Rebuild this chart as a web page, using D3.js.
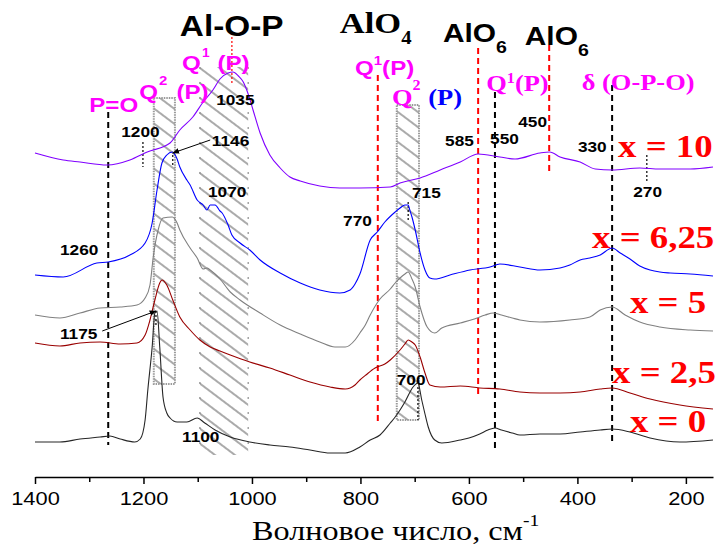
<!DOCTYPE html>
<html><head><meta charset="utf-8">
<script src="https://cdn.jsdelivr.net/npm/d3@7"></script>
<style>body{margin:0;background:#fff}svg{display:block}text{white-space:pre}</style>
</head><body>
<svg id="c" width="720" height="548"></svg>
<script>
// ---------- DATA (wavenumber, cm-1 ; relative intensity, offset traces) ----------
const ticksMajor = [1400, 1200, 1000, 800, 600, 400, 200];
const ticksMinor = [1300, 1100, 900, 700, 500, 300];

const x10_wn = [1400,1348,1317,1267,1225,1193,1151,1133,1109,1090,1072,1059,1044,1035,1025,1016,1007,998,985,967,948,930,911,875,838,801,745,727,690,653,616,583,543,515,469,451,432,395,367,336,285,248,192,150];
const x10_I  = [324,317,315,312,317,325,334,347,360,375,387,398,404,405,401,395,383,367,344,322,309,300,296,291,289,289,290,294,299,307,315,323,320,318,324,325,320,315,308,307,309,308,308,310];

const x625_wn = [1400,1348,1286,1265,1225,1197,1184,1175,1166,1157,1147,1138,1133,1120,1114,1101,1090,1083,1077,1068,1059,1055,1044,1037,1022,1004,985,948,911,875,838,819,810,801,782,769,755,736,727,718,712,709,705,699,690,681,672,663,635,598,561,543,506,469,432,414,395,377,358,336,321,303,285,266,248,229,192,150];
const x625_I  = [202,200,214,215,222,234,254,287,314,322,325,318,310,297,292,277,272,267,272,272,266,264,252,242,234,227,217,204,194,187,184,187,193,203,237,245,255,265,269,272,272,267,260,247,224,207,199,198,202,207,210,213,210,207,209,212,217,219,222,229,224,218,211,207,205,204,203,201];

const x5_wn = [1400,1354,1317,1280,1243,1212,1197,1188,1182,1173,1164,1147,1138,1133,1114,1101,1090,1083,1077,1059,1040,1022,985,948,911,875,847,828,810,801,791,782,764,745,736,727,718,712,705,699,690,677,663,650,616,590,570,555,540,520,506,469,414,377,358,336,312,285,248,192,150];
const x5_I  = [162,159,164,169,170,172,179,192,220,247,259,260,254,247,229,219,208,209,207,198,185,177,164,152,143,135,130,130,137,144,152,162,178,188,194,199,203,205,198,190,170,150,144,149,154,158,162,164,162,159,157,155,157,160,167,170,162,155,150,147,146];

const x25_wn = [1400,1354,1317,1280,1243,1212,1197,1188,1179,1170,1166,1157,1146,1133,1114,1096,1077,1059,1040,1004,967,930,893,856,828,810,801,790,773,755,745,727,718,712,705,699,690,681,672,653,616,580,543,506,469,432,395,358,336,303,266,211,150];
const x25_I  = [134,131,134,135,133,134,142,157,177,194,197,192,177,160,147,137,130,126,122,115,109,102,95,90,88,92,97,102,109,113,117,127,133,137,135,132,120,104,92,90,91,89,88,85,84,84,85,88,89,84,78,72,68];

const x0_wn = [1400,1354,1317,1280,1262,1243,1216,1206,1197,1192,1184,1179,1175,1170,1164,1157,1151,1138,1120,1101,1087,1068,1040,1004,967,930,893,856,828,801,782,764,745,736,727,718,703,694,687,681,675,663,650,616,600,580,565,552,540,520,506,469,432,395,358,336,303,266,211,150];
const x0_I  = [35,35,38,40,41,38,35,38,57,87,130,164,166,130,80,64,59,55,55,59,54,47,40,35,32,30,27,24,24,30,37,42,54,60,67,75,90,94,77,63,50,37,34,37,39,43,47,49,47,44,42,43,43,45,47,48,45,39,35,37];

const seriesNames  = ["x = 10", "x = 6,25", "x = 5", "x = 2,5", "x = 0"];
const seriesColors = ["#8000ff", "#0000ff", "#808080", "#990000", "#262626"];

// ---------- SETUP ----------
const SX = 1.15;
const SANS = "'Liberation Sans', Arial, sans-serif";
const SERIF = "'Liberation Serif', 'Times New Roman', serif";
const svg = d3.select('#c');
const x = d3.scaleLinear().domain([1400, 150]).range([35, 713]);
const y = d3.scaleLinear().domain([0, 450]).range([477, 27]);

const defs = svg.append('defs');
defs.append('pattern').attr('id', 'hatch').attr('patternUnits', 'userSpaceOnUse')
  .attr('width', 12).attr('height', 12).attr('patternTransform', 'rotate(37)')
  .append('line').attr('x1', -1).attr('y1', 6).attr('x2', 13).attr('y2', 6)
  .attr('stroke', '#555').attr('stroke-width', 1);
const mk = defs.append('marker').attr('id', 'arr').attr('viewBox', '0 0 10 10')
  .attr('refX', 9).attr('refY', 5).attr('markerWidth', 7).attr('markerHeight', 7)
  .attr('markerUnits', 'userSpaceOnUse').attr('orient', 'auto');
mk.append('path').attr('d', 'M0,1 L10,5 L0,9 Z').attr('fill', '#000');

// hatched bands [wnLeft, wnRight, Itop, Ibottom, bordered]
const bands = [[1181, 1142, 379, 93, true], [1096, 1007, 410, 22, false], [733, 692, 372, 57, true]];
bands.forEach(b => {
  const r = svg.append('rect').attr('x', x(b[0])).attr('y', y(b[2]))
    .attr('width', x(b[1]) - x(b[0])).attr('height', y(b[3]) - y(b[2]))
    .attr('fill', 'url(#hatch)');
  if (b[4]) r.attr('stroke', '#9a9a9a').attr('stroke-width', 2).attr('stroke-dasharray', '1.5,1');
  else {
    [b[0], b[1]].forEach(w => svg.append('line').attr('x1', x(w)).attr('x2', x(w))
      .attr('y1', y(b[2])).attr('y2', y(b[3])).attr('stroke', '#777').attr('stroke-width', 1)
      .attr('stroke-dasharray', '2,13'));
  }
});

// vertical guide lines [wn, Itop, Ibottom, color, style]
const guides = [
  [1265, 365, 32, '#000', 'dash'], [1201, 335, 310, '#000', 'dot'], [1037, 444, 392, '#ff0000', 'dot'],
  [768, 402, 55, '#ff0000', 'dash'], [583, 429, 80, '#ff0000', 'dash'], [552, 385, 29, '#000', 'dash'],
  [452, 432, 305, '#ff0000', 'dash'], [336, 392, 34, '#000', 'dash'], [272, 322, 295, '#000', 'dot'],
  [1146, 322, 310, '#000', 'dot'], [712, 275, 257, '#000', 'dot'], [694, 90, 57, '#000', 'dot'],
  [1177, 166, 150, '#000', 'dot']
];
guides.forEach(g => svg.append('line').attr('x1', x(g[0])).attr('x2', x(g[0]))
  .attr('y1', y(g[1])).attr('y2', y(g[2])).attr('stroke', g[3])
  .attr('stroke-width', g[4] === 'dash' ? 2 : 1.2)
  .attr('stroke-dasharray', g[4] === 'dash' ? '6,4' : '2,2'));

// traces
const series = [[x10_wn, x10_I], [x625_wn, x625_I], [x5_wn, x5_I], [x25_wn, x25_I], [x0_wn, x0_I]];
const line = d3.line().x(d => x(d[0])).y(d => y(d[1])).curve(d3.curveMonotoneX);
series.forEach((s, i) => {
  const pts = s[0].map((w, k) => [w, s[1][k]]);
  svg.append('path').datum(pts).attr('d', line).attr('fill', 'none')
    .attr('stroke', seriesColors[i]).attr('stroke-width', 1.1);
});

// axis
const ax = svg.append('g').attr('transform', `translate(0,${y(0)})`)
  .call(d3.axisBottom(x).tickValues(ticksMajor).tickSize(7).tickSizeOuter(0).tickFormat(d3.format('d')));
ax.select('.domain').attr('stroke-width', 1.5);
ax.selectAll('.tick line').attr('stroke-width', 1.5);
ax.selectAll('.tick text').attr('y', 28).attr('dy', 0).attr('font-size', 19)
  .attr('font-family', SANS).attr('fill', '#000').attr('transform', `scale(${SX},1)`);
const axm = svg.append('g').attr('transform', `translate(0,${y(0)})`)
  .call(d3.axisBottom(x).tickValues(ticksMinor).tickSize(5).tickSizeOuter(0).tickFormat(''));
axm.select('.domain').remove();
axm.selectAll('.tick line').attr('stroke-width', 1.5);

// text helper
function addText(wn, inten, parts, base) {
  const t = svg.append('text')
    .attr('transform', `translate(${x(wn)},${y(inten)}) scale(${SX},1)`)
    .attr('font-family', base.family).attr('font-weight', base.weight || 'normal')
    .attr('font-size', base.size).attr('fill', base.fill || '#000');
  parts.forEach(p => {
    const ts = t.append('tspan').attr('y', p.dy || 0).text(p.t);
    if (p.size) ts.attr('font-size', p.size);
    if (p.fill) ts.attr('fill', p.fill);
    if (p.dx) ts.attr('dx', p.dx);
    if (p.family) ts.attr('font-family', p.family);
  });
  return t;
}
const MAG = '#ff00ff';
// band / assignment titles
addText(1133, 441, [{t: 'Al-O-P'}], {family: SANS, weight: 'bold', size: 29});
addText(838, 444, [{t: 'AlO'}, {t: '4', size: 18, dy: 11}], {family: SERIF, weight: 'bold', size: 30});
addText(648, 435, [{t: 'AlO'}, {t: '6', size: 17, dy: 11}], {family: SANS, weight: 'bold', size: 26});
addText(497, 432, [{t: 'AlO'}, {t: '6', size: 17, dy: 11}], {family: SANS, weight: 'bold', size: 26});
addText(1129, 407, [{t: 'Q'}, {t: '1', size: 12, dy: -13, dx: 1}, {t: ' (P)', dx: 1}], {family: SANS, weight: 'bold', size: 21, fill: MAG});
addText(1208, 378, [{t: 'Q'}, {t: '2', size: 13, dy: -14, dx: 1}, {t: ' (P)', dx: 2}], {family: SANS, weight: 'bold', size: 21, fill: MAG});
addText(1300, 365, [{t: 'P=O'}], {family: SANS, weight: 'bold', size: 21, fill: MAG});
addText(810, 402, [{t: 'Q'}, {t: '1', size: 13, dy: -10}, {t: '(P)'}], {family: SANS, weight: 'bold', size: 21, fill: MAG});
addText(742, 372, [{t: 'Q'}, {t: '2', size: 14, dy: -15}, {t: ' (P)', fill: '#0000ff', dx: 1}], {family: SERIF, weight: 'bold', size: 23, fill: MAG});
addText(568, 386, [{t: 'Q'}, {t: '1', size: 14, dy: -8}, {t: '(P)'}], {family: SERIF, weight: 'bold', size: 23, fill: MAG});
addText(392, 387, [{t: 'δ (O-P-O)'}], {family: SERIF, weight: 'bold', size: 23, fill: MAG});

// peak numbers
const peakLabels = [['1200', 1241, 340], ['1035', 1066, 372], ['1146', 1074, 331], ['1070', 1081, 280],
  ['1260', 1354, 222], ['1175', 1354, 138], ['1100', 1129, 35], ['770', 832, 251], ['715', 705, 279],
  ['700', 733, 92], ['585', 644, 331], ['550', 561, 333], ['450', 509, 350], ['330', 399, 325], ['270', 297, 280]];
peakLabels.forEach(p => addText(p[1], p[2], [{t: p[0]}], {family: SANS, weight: 'bold', size: 15}));

// series labels
const seriesLabelPos = [[325, 320], [373, 229], [303, 164], [336, 94], [303, 45]];
seriesNames.forEach((n, i) => addText(seriesLabelPos[i][0], seriesLabelPos[i][1], [{t: n}],
  {family: SERIF, weight: 'bold', size: 32, fill: '#ff0000'}));

// arrows
[[1077, 337, 1146, 324], [1276, 146, 1177, 166]].forEach(a => svg.append('line')
  .attr('x1', x(a[0])).attr('y1', y(a[1])).attr('x2', x(a[2])).attr('y2', y(a[3]))
  .attr('stroke', '#000').attr('stroke-width', 1).attr('marker-end', 'url(#arr)'));

// axis title
const tt = svg.append('text').attr('transform', `translate(252,540) scale(${SX},1)`)
  .attr('font-family', SERIF).attr('font-size', 28).attr('fill', '#000');
tt.append('tspan').text('Волновое число, см');
tt.append('tspan').attr('y', -14).attr('font-size', 17).text('-1');
</script>
</body></html>
